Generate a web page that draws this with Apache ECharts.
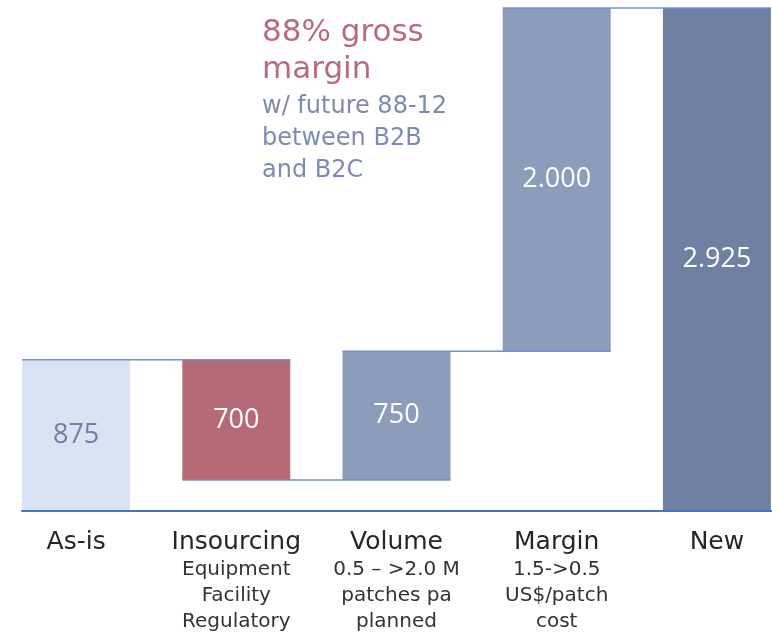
<!DOCTYPE html>
<html>
<head>
<meta charset="utf-8">
<script src="https://cdn.jsdelivr.net/npm/echarts@6/dist/echarts.min.js"></script>
<style>html,body{margin:0;padding:0;background:#fff;}#c{width:772px;height:633px;}</style>
</head>
<body>
<div id="c"></div>
<script>
const categories = ['As-is', 'Insourcing', 'Volume', 'Margin', 'New'];
const subLabels = [[], ['Equipment', 'Facility', 'Regulatory'], ['0.5 – >2.0 M', 'patches pa', 'planned'], ['1.5->0.5', 'US$/patch', 'cost'], []];
const baseValues = [0, 175, 175, 925, 0];
const barValues = [875, 700, 750, 2000, 2925];
const barLabels = ['875', '700', '750', '2.000', '2.925'];
const connectorLevels = [875, 175, 925, 2925];

const palette = ['#DAE3F3', '#B56A76', '#8B9DBB', '#8B9DBB', '#7080A3'];
const labelColors = ['#6F7FA8', '#fff', '#fff', '#fff', '#fff'];
const BAR_W = 108;

const chart = echarts.init(document.getElementById('c'), null, {renderer: 'canvas'});
chart.setOption({
  animation: false,
  grid: [
    {left: -4, right: -25, top: 8, bottom: 123, containLabel: false, outerBoundsMode: 'none'},
    {left: 22, right: 0, top: 8, bottom: 122, containLabel: false, outerBoundsMode: 'none'}
  ],
  xAxis: [
    {
      type: 'category', data: categories, gridIndex: 0,
      axisLine: {show: false}, axisTick: {show: false},
      axisLabel: {
        interval: 0, margin: 17,
        formatter: function (v, i) {
          let s = '{a|' + v + '}';
          subLabels[i].forEach(t => { s += '\n{b|' + t + '}'; });
          return s;
        },
        rich: {
          a: {fontFamily: 'DejaVu Sans', fontSize: 25, color: '#262626', lineHeight: 30, align: 'center'},
          b: {fontFamily: 'DejaVu Sans', fontSize: 20, color: '#333333', lineHeight: 26, align: 'center'}
        }
      }
    },
    {
      type: 'value', gridIndex: 1, min: 0, max: 1,
      axisLine: {show: true, lineStyle: {color: '#4472C4', width: 2}},
      axisTick: {show: false}, axisLabel: {show: false}, splitLine: {show: false}
    }
  ],
  yAxis: [
    {type: 'value', gridIndex: 0, min: 0, max: 2925, show: false, splitLine: {show: false}},
    {type: 'value', gridIndex: 1, min: 0, max: 1, show: false, splitLine: {show: false}}
  ],
  series: [
    {
      type: 'bar', stack: 'w', xAxisIndex: 0, yAxisIndex: 0, barWidth: BAR_W,
      itemStyle: {color: 'transparent'}, data: baseValues, silent: true
    },
    {
      type: 'bar', stack: 'w', xAxisIndex: 0, yAxisIndex: 0, barWidth: BAR_W,
      data: barValues.map((v, i) => ({
        value: v,
        itemStyle: {color: palette[i]},
        label: {color: labelColors[i]}
      })),
      label: {
        show: true, position: 'inside',
        fontFamily: 'Open Sans', fontSize: 27,
        formatter: p => barLabels[p.dataIndex]
      }
    },
    {
      type: 'custom', xAxisIndex: 0, yAxisIndex: 0, z: 5,
      data: connectorLevels.map((v, i) => [i, v]),
      renderItem: function (params, api) {
        const i = api.value(0), lvl = api.value(1);
        const p1 = api.coord([i, lvl]);
        const p2 = api.coord([i + 1, lvl]);
        return {
          type: 'line',
          shape: {x1: p1[0] - BAR_W / 2, y1: p1[1], x2: p2[0] + BAR_W / 2, y2: p2[1]},
          style: {stroke: '#6F8FD4', lineWidth: 1.5}
        };
      }
    }
  ],
  graphic: [
    {type: 'text', left: 262, top: 14, style: {text: '88% gross\nmargin', fill: '#B86B78', font: '31px "DejaVu Sans"', lineHeight: 37}},
    {type: 'text', left: 262, top: 91, style: {text: 'w/ future 88-12\nbetween B2B\nand B2C', fill: '#7D8BB0', font: '24px "DejaVu Sans"', lineHeight: 32}}
  ]
});
</script>
</body>
</html>
